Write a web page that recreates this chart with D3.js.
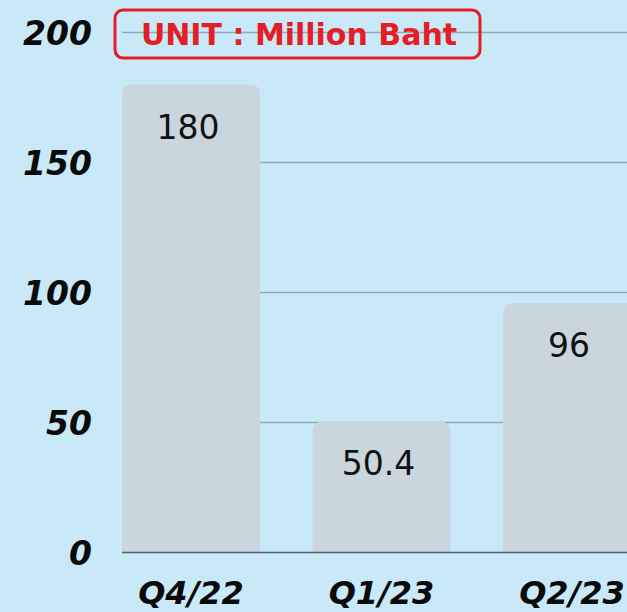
<!DOCTYPE html>
<html>
<head>
<meta charset="utf-8">
<script src="https://cdn.jsdelivr.net/npm/d3@7"></script>
<style>
  html, body { margin: 0; padding: 0; background: #c9e8f8; overflow: hidden; }
  svg { display: block; }
</style>
</head>
<body>
<div id="chart"></div>
<script>
// data
const quarters = ["Q4/22", "Q1/23", "Q2/23"];
const values = [180, 50.4, 96];
const valueLabels = ["180", "50.4", "96"];
const yTicks = [0, 50, 100, 150, 200];
const unitText = "UNIT : Million Baht";

const width = 627;
const height = 612;
const font = "'DejaVu Sans', sans-serif";

const svg = d3.select("#chart").append("svg")
  .attr("width", width)
  .attr("height", height);

svg.append("rect").attr("width", width).attr("height", height).attr("fill", "#c9e8f8");

const y = d3.scaleLinear().domain([0, 200]).range([552.5, 32.5]);

// 分類軸：第三根柱子超出畫面右邊
const x = d3.scaleBand()
  .domain(quarters)
  .range([95.75, 667.25])
  .paddingInner(0.2756)
  .paddingOuter(0.1378);

// 格線
svg.append("g")
  .selectAll("line")
  .data(yTicks.filter((d) => d > 0))
  .join("line")
  .attr("x1", 122)
  .attr("x2", width)
  .attr("y1", (d) => y(d))
  .attr("y2", (d) => y(d))
  .attr("stroke", "#8eaab8")
  .attr("stroke-width", 1.3);

// 柱子（上方圓角）
const r = 10;
function barPath(x0, y0, w, y1) {
  return `M${x0},${y1}V${y0 + r}Q${x0},${y0} ${x0 + r},${y0}H${x0 + w - r}Q${x0 + w},${y0} ${x0 + w},${y0 + r}V${y1}Z`;
}

svg.append("g")
  .selectAll("path")
  .data(values)
  .join("path")
  .attr("d", (d, i) => barPath(x(quarters[i]), y(d), x.bandwidth(), y(0)))
  .attr("fill", "#c9d6de");

// 基準線
svg.append("line")
  .attr("x1", 122)
  .attr("x2", width)
  .attr("y1", y(0))
  .attr("y2", y(0))
  .attr("stroke", "#4f6270")
  .attr("stroke-width", 1.5);

// 數值標籤
svg.append("g")
  .selectAll("text")
  .data(values)
  .join("text")
  .attr("x", (d, i) => x(quarters[i]) + x.bandwidth() / 2 - 3)
  .attr("y", (d) => y(d) + 54)
  .attr("text-anchor", "middle")
  .attr("font-family", font)
  .attr("font-size", 33)
  .attr("fill", "#111")
  .text((d, i) => valueLabels[i]);

// Y 軸標籤
svg.append("g")
  .selectAll("text")
  .data(yTicks)
  .join("text")
  .attr("x", 92)
  .attr("y", (d) => y(d) + 12)
  .attr("text-anchor", "end")
  .attr("font-family", font)
  .attr("font-weight", "bold")
  .attr("font-style", "italic")
  .attr("font-size", 33)
  .attr("fill", "#0a0a0a")
  .text((d) => d);

// X 軸標籤
svg.append("g")
  .selectAll("text")
  .data(quarters)
  .join("text")
  .attr("x", (d) => x(d) + x.bandwidth() / 2)
  .attr("y", 604)
  .attr("text-anchor", "middle")
  .attr("font-family", font)
  .attr("font-weight", "bold")
  .attr("font-style", "italic")
  .attr("font-size", 32)
  .attr("fill", "#0a0a0a")
  .text((d) => d);

// 單位框
svg.append("rect")
  .attr("x", 115)
  .attr("y", 10)
  .attr("width", 365)
  .attr("height", 48)
  .attr("rx", 8)
  .attr("fill", "none")
  .attr("stroke", "#e31e24")
  .attr("stroke-width", 3);

svg.append("text")
  .attr("x", 299)
  .attr("y", 45)
  .attr("text-anchor", "middle")
  .attr("font-family", font)
  .attr("font-weight", "bold")
  .attr("font-size", 30)
  .attr("fill", "#e31e24")
  .text(unitText);
</script>
</body>
</html>
